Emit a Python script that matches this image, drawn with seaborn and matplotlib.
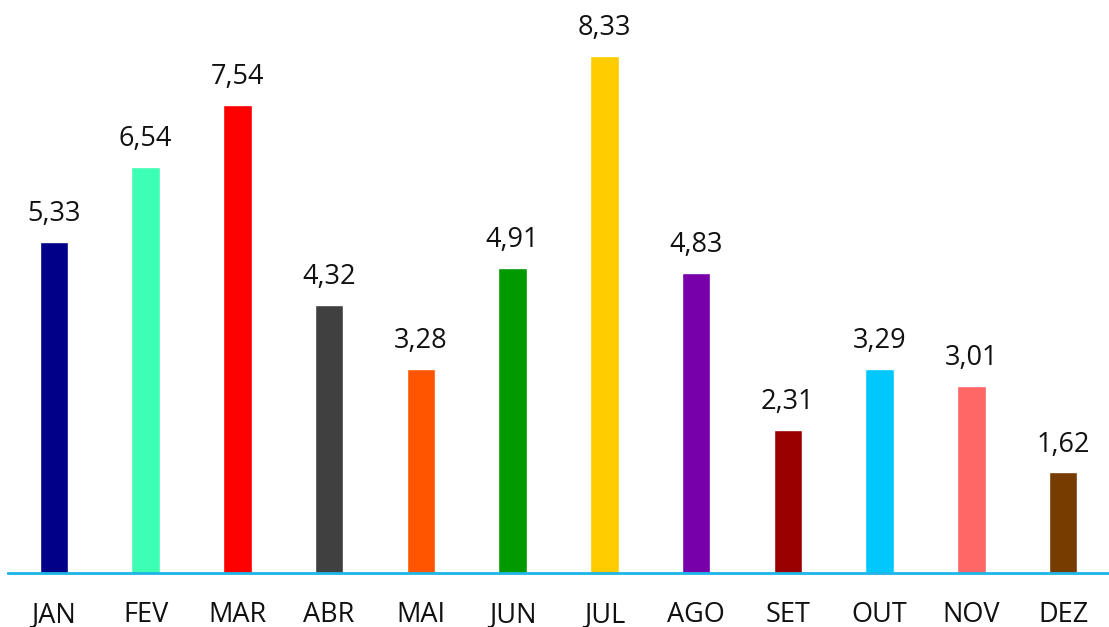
import numpy as np
import matplotlib.pyplot as plt
import seaborn as sns

meses = ['JAN', 'FEV', 'MAR', 'ABR', 'MAI', 'JUN', 'JUL', 'AGO', 'SET', 'OUT', 'NOV', 'DEZ']
valores = [5.33, 6.54, 7.54, 4.32, 3.28, 4.91, 8.33, 4.83, 2.31, 3.29, 3.01, 1.62]
cores = ['#000088', '#3CFFB3', '#FF0000', '#404040', '#FF5500', '#009900',
         '#FFCC00', '#7700AA', '#990000', '#00C8FF', '#FF6666', '#773C00']

sns.set_style('white')
plt.rcParams['font.family'] = ['Open Sans', 'DejaVu Sans']

fig = plt.figure(figsize=(11.09, 6.27), dpi=100)
ax = fig.add_axes([8 / 1109, 54 / 627, 1 - 8 / 1109, 573 / 627])

sns.barplot(x=meses, y=valores, hue=meses, palette=cores, legend=False,
            width=0.31, saturation=1, ax=ax)

# rótulos de valor com vírgula decimal
for i, v in enumerate(valores):
    ax.annotate(f'{v:.2f}'.replace('.', ','), xy=(i, v), xytext=(0, 10),
                textcoords='offset points', ha='center', va='bottom',
                fontsize=19.5, color='#111111')

ax.set_xlim(-0.5, 11.5)
ax.set_ylim(0, 9.23)
ax.set_yticks([])
ax.tick_params(axis='x', length=0, pad=20, labelsize=19.5, labelcolor='#111111')
for s in ['top', 'left', 'right']:
    ax.spines[s].set_visible(False)
ax.spines['bottom'].set_color('#1EB4E6')
ax.spines['bottom'].set_linewidth(2)

fig.savefig('out.png', dpi=100)
